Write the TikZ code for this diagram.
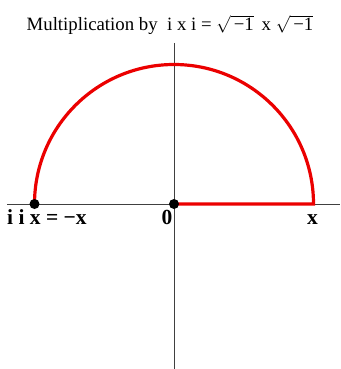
\documentclass[tikz,border=0pt]{standalone}
\usepackage{fontspec}
\setmainfont{Liberation Serif}
\begin{document}
\begin{tikzpicture}[x=1pt,y=-1pt,
  axis/.style={draw=black!75,line width=0.9pt},
  redpath/.style={draw=red!92!black,line width=3.2pt,line join=miter},
  dot/.style={circle,fill=black,inner sep=0pt,minimum size=10pt},
  lbl/.style={font=\fontsize{21.5}{21.5}\selectfont\bfseries,anchor=base,inner sep=0pt},
  ttl/.style={font=\fontsize{18.8}{18.8}\selectfont,anchor=base,inner sep=0pt}]
\useasboundingbox (0,0) rectangle (340,369);
% axes
\coordinate (hl) at (7,204);
\coordinate (hr) at (340,204);
\coordinate (vt) at (174,43);
\coordinate (vb) at (174,369);
\draw[axis] (hl) -- (hr);
\draw[axis] (vt) -- (vb);
% origin and points
\coordinate (O) at (174,204);
\coordinate (L) at (34.5,204);
\coordinate (R) at (313.5,204);
\draw[redpath] (L) arc[start angle=180,end angle=360,radius=139.5] -- (O);
\node[dot] (dL) at (L) {};
\node[dot] (dO) at (O) {};
% labels
\node[lbl,anchor=base west] (tL) at (7,224) {i i x = −x};
\node[lbl] (t0) at (167,224) {0};
\node[lbl] (tR) at (312.5,224) {x};
% title
\node[ttl] (title) at (170,31) {Multiplication by \ i x i = $\sqrt{\mbox{\,−1}}$ \,x $\sqrt{\mbox{\,−1}}$};
\end{tikzpicture}
\end{document}
